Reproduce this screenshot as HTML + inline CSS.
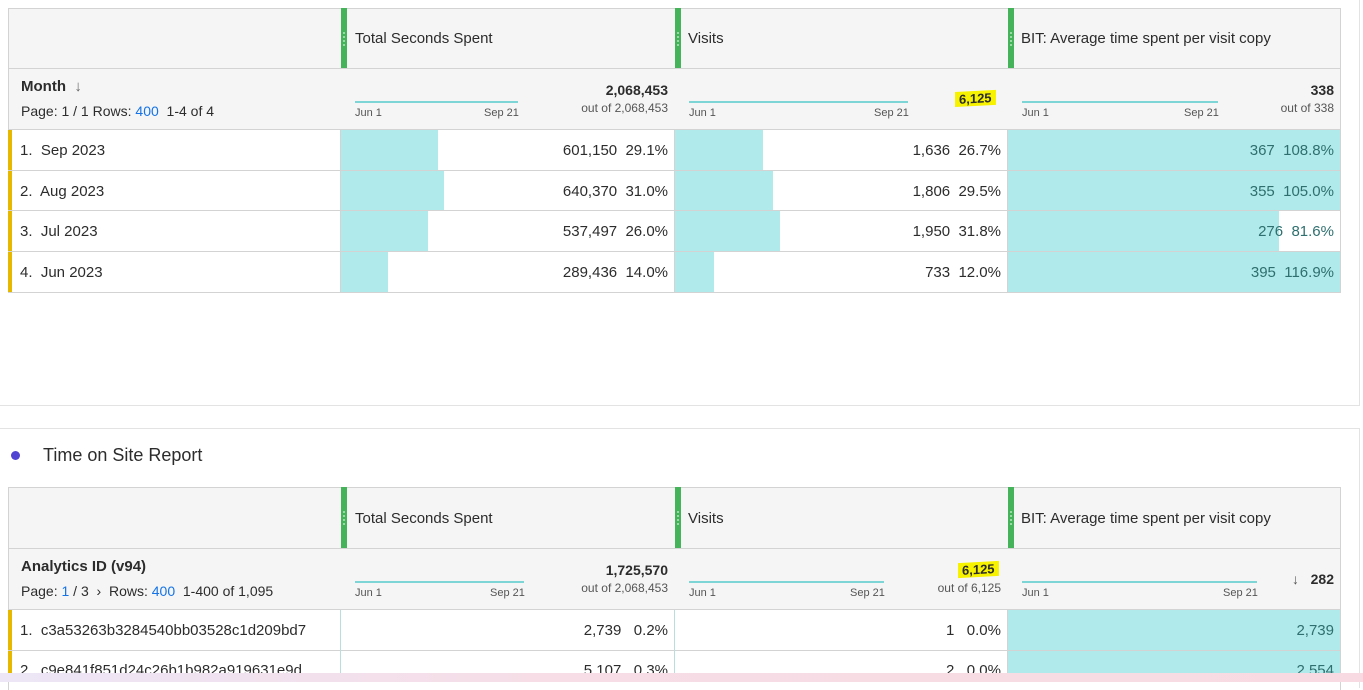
<!DOCTYPE html>
<html><head><meta charset="utf-8"><style>
*{margin:0;padding:0;box-sizing:border-box}
body{width:1363px;height:682px;overflow:hidden;background:#fff;font-family:"Liberation Sans",sans-serif;color:#2c2c2c;position:relative;font-size:14px}
.a{position:absolute;white-space:nowrap}
.hdr{background:#f5f5f5;border:1px solid #d3d3d3}
.g{position:absolute;width:6px;background:#45b35a}
.g i{position:absolute;left:2px;width:2px;height:2px;background:#b8e6c0;border-radius:1px}
.bar{position:absolute;background:#b0eaea}
.line{position:absolute;height:2px;background:#7dd5d5}
.sm{font-size:11px;color:#555}
.r{text-align:right}
.hl{background:#f6f200;padding:0 4px;transform:skewY(-3deg)}
</style></head><body>

<!-- Panel 1 -->
<div class="a" style="left:0;top:0;width:1360px;height:406px;border-right:1px solid #e3e3e3;border-bottom:1px solid #e3e3e3"></div>
<!-- table1 header -->
<div class="a hdr" style="left:8px;top:8px;width:1333px;height:122px"></div>
<div class="a" style="left:8px;top:68px;width:1333px;height:1px;background:#d3d3d3"></div>
<div class="g" style="left:341px;top:8px;height:60px"><i style="top:24px"></i><i style="top:28px"></i><i style="top:32px"></i><i style="top:36px"></i></div>
<div class="g" style="left:675px;top:8px;height:60px"><i style="top:24px"></i><i style="top:28px"></i><i style="top:32px"></i><i style="top:36px"></i></div>
<div class="g" style="left:1008px;top:8px;height:60px"><i style="top:24px"></i><i style="top:28px"></i><i style="top:32px"></i><i style="top:36px"></i></div>
<div class="a" style="left:355px;top:30px;font-size:15px">Total Seconds Spent</div>
<div class="a" style="left:688px;top:30px;font-size:15px">Visits</div>
<div class="a" style="left:1021px;top:30px;font-size:15px">BIT: Average time spent per visit copy</div>

<div class="a" style="left:21px;top:78px;font-size:15px;font-weight:bold">Month &nbsp;<span style="font-weight:normal;color:#666">↓</span></div>
<div class="a" style="left:21px;top:103px;font-size:14px">Page: 1 / 1 Rows: <span style="color:#1473e6">400</span>&nbsp; 1-4 of 4</div>

<div class="line" style="left:355px;top:101px;width:163px"></div>
<div class="a sm" style="left:355px;top:107px">Jun 1</div>
<div class="a sm" style="left:484px;top:107px">Sep 21</div>
<div class="a r" style="left:540px;width:128px;top:82px;font-weight:bold">2,068,453</div>
<div class="a r sm" style="left:540px;width:128px;top:101px;font-size:12px">out of 2,068,453</div>

<div class="line" style="left:689px;top:101px;width:219px"></div>
<div class="a sm" style="left:689px;top:107px">Jun 1</div>
<div class="a sm" style="left:874px;top:107px">Sep 21</div>
<div class="a hl" style="left:955px;top:91px;font-weight:bold;font-size:13px">6,125</div>

<div class="line" style="left:1022px;top:101px;width:196px"></div>
<div class="a sm" style="left:1022px;top:107px">Jun 1</div>
<div class="a sm" style="left:1184px;top:107px">Sep 21</div>
<div class="a r" style="left:1240px;width:94px;top:82px;font-weight:bold">338</div>
<div class="a r sm" style="left:1240px;width:94px;top:101px;font-size:12px">out of 338</div>

<!-- table1 rows -->
<div class="a" style="left:8px;top:130px;width:1333px;height:163px;border:1px solid #d3d3d3;border-top:none"></div>
<div class="a" style="left:8px;top:130px;width:4px;height:162px;background:#e6b800"></div>

<div class="bar" style="left:341px;top:130px;width:97px;height:40px"></div>
<div class="bar" style="left:341px;top:171px;width:103px;height:39px"></div>
<div class="bar" style="left:341px;top:211px;width:87px;height:40px"></div>
<div class="bar" style="left:341px;top:252px;width:47px;height:40px"></div>
<div class="bar" style="left:675px;top:130px;width:88px;height:40px"></div>
<div class="bar" style="left:675px;top:171px;width:98px;height:39px"></div>
<div class="bar" style="left:675px;top:211px;width:105px;height:40px"></div>
<div class="bar" style="left:675px;top:252px;width:39px;height:40px"></div>
<div class="bar" style="left:1008px;top:130px;width:332px;height:40px"></div>
<div class="bar" style="left:1008px;top:171px;width:332px;height:39px"></div>
<div class="bar" style="left:1008px;top:211px;width:271px;height:40px"></div>
<div class="bar" style="left:1008px;top:252px;width:332px;height:40px"></div>

<div class="a" style="left:8px;top:170px;width:1333px;height:1px;background:#d3d3d3"></div>
<div class="a" style="left:8px;top:210px;width:1333px;height:1px;background:#d3d3d3"></div>
<div class="a" style="left:8px;top:251px;width:1333px;height:1px;background:#d3d3d3"></div>
<div class="a" style="left:340px;top:130px;width:1px;height:162px;background:#d3d3d3"></div>
<div class="a" style="left:674px;top:130px;width:1px;height:162px;background:#d3d3d3"></div>
<div class="a" style="left:1007px;top:130px;width:1px;height:162px;background:#d3d3d3"></div>

<div class="a" style="left:20px;top:142px;font-size:15px">1.&nbsp; Sep 2023</div>
<div class="a" style="left:20px;top:183px;font-size:15px">2.&nbsp; Aug 2023</div>
<div class="a" style="left:20px;top:223px;font-size:15px">3.&nbsp; Jul 2023</div>
<div class="a" style="left:20px;top:264px;font-size:15px">4.&nbsp; Jun 2023</div>

<div class="a r" style="left:500px;width:168px;top:142px;font-size:15px">601,150&nbsp;&nbsp;29.1%</div>
<div class="a r" style="left:500px;width:168px;top:183px;font-size:15px">640,370&nbsp;&nbsp;31.0%</div>
<div class="a r" style="left:500px;width:168px;top:223px;font-size:15px">537,497&nbsp;&nbsp;26.0%</div>
<div class="a r" style="left:500px;width:168px;top:264px;font-size:15px">289,436&nbsp;&nbsp;14.0%</div>

<div class="a r" style="left:840px;width:161px;top:142px;font-size:15px">1,636&nbsp;&nbsp;26.7%</div>
<div class="a r" style="left:840px;width:161px;top:183px;font-size:15px">1,806&nbsp;&nbsp;29.5%</div>
<div class="a r" style="left:840px;width:161px;top:223px;font-size:15px">1,950&nbsp;&nbsp;31.8%</div>
<div class="a r" style="left:840px;width:161px;top:264px;font-size:15px">733&nbsp;&nbsp;12.0%</div>

<div class="a r" style="left:1170px;width:164px;top:142px;font-size:15px;color:#2f6f6f">367&nbsp;&nbsp;108.8%</div>
<div class="a r" style="left:1170px;width:164px;top:183px;font-size:15px;color:#2f6f6f">355&nbsp;&nbsp;105.0%</div>
<div class="a r" style="left:1170px;width:164px;top:223px;font-size:15px;color:#2f6f6f">276&nbsp;&nbsp;81.6%</div>
<div class="a r" style="left:1170px;width:164px;top:264px;font-size:15px;color:#2f6f6f">395&nbsp;&nbsp;116.9%</div>

<!-- Panel 2 -->
<div class="a" style="left:0;top:428px;width:1360px;height:260px;border-top:1px solid #e3e3e3;border-right:1px solid #e3e3e3"></div>
<div class="a" style="left:11px;top:451px;width:9px;height:9px;border-radius:50%;background:#5144d3"></div>
<div class="a" style="left:43px;top:445px;font-size:18px;color:#2c2c2c">Time on Site Report</div>

<div class="a hdr" style="left:8px;top:487px;width:1333px;height:123px"></div>
<div class="a" style="left:8px;top:548px;width:1333px;height:1px;background:#d3d3d3"></div>
<div class="g" style="left:341px;top:487px;height:61px"><i style="top:24px"></i><i style="top:28px"></i><i style="top:32px"></i><i style="top:36px"></i></div>
<div class="g" style="left:675px;top:487px;height:61px"><i style="top:24px"></i><i style="top:28px"></i><i style="top:32px"></i><i style="top:36px"></i></div>
<div class="g" style="left:1008px;top:487px;height:61px"><i style="top:24px"></i><i style="top:28px"></i><i style="top:32px"></i><i style="top:36px"></i></div>
<div class="a" style="left:355px;top:510px;font-size:15px">Total Seconds Spent</div>
<div class="a" style="left:688px;top:510px;font-size:15px">Visits</div>
<div class="a" style="left:1021px;top:510px;font-size:15px">BIT: Average time spent per visit copy</div>

<div class="a" style="left:21px;top:558px;font-size:15px;font-weight:bold">Analytics ID (v94)</div>
<div class="a" style="left:21px;top:583px;font-size:14px">Page: <span style="color:#1473e6">1</span> / 3 &nbsp;›&nbsp; Rows: <span style="color:#1473e6">400</span>&nbsp; 1-400 of 1,095</div>

<div class="line" style="left:355px;top:581px;width:169px"></div>
<div class="a sm" style="left:355px;top:587px">Jun 1</div>
<div class="a sm" style="left:490px;top:587px">Sep 21</div>
<div class="a r" style="left:540px;width:128px;top:562px;font-weight:bold">1,725,570</div>
<div class="a r sm" style="left:540px;width:128px;top:581px;font-size:12px">out of 2,068,453</div>

<div class="line" style="left:689px;top:581px;width:195px"></div>
<div class="a sm" style="left:689px;top:587px">Jun 1</div>
<div class="a sm" style="left:850px;top:587px">Sep 21</div>
<div class="a hl" style="left:958px;top:562px;font-weight:bold;font-size:13px">6,125</div>
<div class="a r sm" style="left:900px;width:101px;top:581px;font-size:12px">out of 6,125</div>

<div class="line" style="left:1022px;top:581px;width:235px"></div>
<div class="a sm" style="left:1022px;top:587px">Jun 1</div>
<div class="a sm" style="left:1223px;top:587px">Sep 21</div>
<div class="a r" style="left:1240px;width:94px;top:571px;font-weight:bold"><span style="font-weight:normal;color:#555">↓</span>&nbsp;&nbsp; 282</div>

<div class="a" style="left:8px;top:610px;width:1333px;height:80px;border-left:1px solid #d3d3d3;border-right:1px solid #d3d3d3"></div>
<div class="a" style="left:8px;top:610px;width:4px;height:70px;background:#e6b800"></div>
<div class="bar" style="left:1008px;top:610px;width:332px;height:70px"></div>
<div class="a" style="left:8px;top:650px;width:1333px;height:1px;background:#d3d3d3"></div>
<div class="a" style="left:340px;top:610px;width:1px;height:70px;background:#b8dede"></div>
<div class="a" style="left:674px;top:610px;width:1px;height:70px;background:#b8dede"></div>
<div class="a" style="left:1007px;top:610px;width:1px;height:70px;background:#d3d3d3"></div>

<div class="a" style="left:20px;top:622px;font-size:15px">1.&nbsp; c3a53263b3284540bb03528c1d209bd7</div>
<div class="a" style="left:20px;top:662px;font-size:15px">2.&nbsp; c9e841f851d24c26b1b982a919631e9d</div>
<div class="a r" style="left:500px;width:168px;top:622px;font-size:15px">2,739&nbsp;&nbsp;&nbsp;0.2%</div>
<div class="a r" style="left:500px;width:168px;top:662px;font-size:15px">5,107&nbsp;&nbsp;&nbsp;0.3%</div>
<div class="a r" style="left:840px;width:161px;top:622px;font-size:15px">1&nbsp;&nbsp;&nbsp;0.0%</div>
<div class="a r" style="left:840px;width:161px;top:662px;font-size:15px">2&nbsp;&nbsp;&nbsp;0.0%</div>
<div class="a r" style="left:1170px;width:164px;top:622px;font-size:15px;color:#2f6f6f">2,739</div>
<div class="a r" style="left:1170px;width:164px;top:662px;font-size:15px;color:#2f6f6f">2,554</div>

<div class="a" style="left:0;top:673px;width:1363px;height:9px;background:linear-gradient(90deg,#ece6f6,#f6dde6 40%,#f8dbe2)"></div>
</body></html>
